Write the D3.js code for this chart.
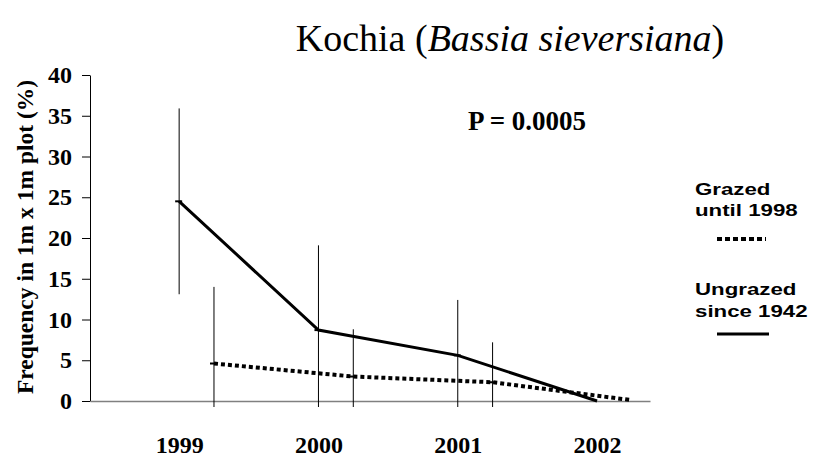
<!DOCTYPE html>
<html>
<head>
<meta charset="utf-8">
<script src="https://cdn.jsdelivr.net/npm/d3@7"></script>
<style>
  body { margin: 0; background: #fff; }
  svg { display: block; }
</style>
</head>
<body>
<div class="chart"></div>
<script>
// chart data
var years = [1999, 2000, 2001, 2002];
var ungrazedMean = [24.5, 8.7, 5.6, 0.0];
var ungrazedErr = [11.4, 10.4, 6.8, 0];
var grazedMean = [4.6, 3.0, 2.3, 0.1];
var grazedErr = [9.4, 5.8, 4.9, 0];
var yTicks = [0, 5, 10, 15, 20, 25, 30, 35, 40];
var grazedShift = 0.25; // grazed series sits a quarter year right of the label

var svgWidth = 816;
var svgHeight = 458;

var serif = "'Liberation Serif', 'Times New Roman', serif";
var sans = "'Liberation Sans', Arial, sans-serif";

var svg = d3.select(".chart")
  .append("svg")
  .attr("width", svgWidth)
  .attr("height", svgHeight);

// scales
var xScale = d3.scaleLinear()
  .domain([1998.36, 2002.38])
  .range([90, 650]);

var yScale = d3.scaleLinear()
  .domain([0, 40])
  .range([401, 75]);

// clip: error bars run a little below the x axis and are cut there
svg.append("clipPath")
  .attr("id", "plotClip")
  .append("rect")
  .attr("x", xScale.range()[0])
  .attr("y", 0)
  .attr("width", xScale.range()[1] - xScale.range()[0])
  .attr("height", yScale(-0.75));

// title
var title = svg.append("text")
  .attr("x", 510)
  .attr("y", 51)
  .attr("text-anchor", "middle")
  .style("font-family", serif)
  .style("font-size", "38px");
title.append("tspan").text("Kochia (");
title.append("tspan").style("font-style", "italic").text("Bassia sieversiana");
title.append("tspan").text(")");

// y axis
var leftAxis = d3.axisLeft(yScale)
  .tickValues(yTicks)
  .tickSize(8)
  .tickSizeOuter(0)
  .tickPadding(10);

var yAxis = svg.append("g")
  .attr("transform", "translate(90,0)")
  .call(leftAxis);
yAxis.select(".domain").attr("stroke", "#000");
yAxis.selectAll("line").attr("stroke", "#000");
yAxis.selectAll("text")
  .style("font-family", serif)
  .style("font-size", "24px")
  .style("font-weight", "bold")
  .attr("fill", "#000");

// x axis (grey line, labels only)
var bottomAxis = d3.axisBottom(xScale)
  .tickValues(years)
  .tickFormat(d3.format("d"))
  .tickSize(0)
  .tickSizeOuter(0);

var xAxis = svg.append("g")
  .attr("transform", "translate(0,401)")
  .call(bottomAxis);
xAxis.select(".domain").attr("stroke", "#808080").attr("stroke-width", 1.5);
xAxis.selectAll("text")
  .attr("y", 52)
  .attr("dy", 0)
  .style("font-family", serif)
  .style("font-size", "24px")
  .style("font-weight", "bold")
  .attr("fill", "#000");

// y axis title
svg.append("text")
  .attr("transform", "translate(33,237) rotate(-90)")
  .attr("text-anchor", "middle")
  .style("font-family", serif)
  .style("font-size", "23.5px")
  .style("font-weight", "bold")
  .text("Frequency in 1m x 1m plot (%)");

// P value
svg.append("text")
  .attr("x", 527)
  .attr("y", 130)
  .attr("text-anchor", "middle")
  .style("font-family", serif)
  .style("font-size", "27px")
  .style("font-weight", "bold")
  .text("P = 0.0005");

// build series
var ungrazed = years.map((y, i) => ({ x: y, mean: ungrazedMean[i], err: ungrazedErr[i] }));
var grazed = years.map((y, i) => ({ x: y + grazedShift, mean: grazedMean[i], err: grazedErr[i] }));

var plot = svg.append("g").attr("clip-path", "url(#plotClip)");

function drawErrorBars(data) {
  plot.selectAll(null)
    .data(data.filter(d => d.err > 0))
    .enter()
    .append("line")
    .attr("x1", d => xScale(d.x))
    .attr("x2", d => xScale(d.x))
    .attr("y1", d => yScale(d.mean + d.err))
    .attr("y2", d => yScale(d.mean - d.err))
    .attr("stroke", "#000")
    .attr("stroke-width", 1);
}
drawErrorBars(ungrazed);
drawErrorBars(grazed);

var line = d3.line()
  .x(d => xScale(d.x))
  .y(d => yScale(d.mean));

svg.append("path")
  .datum(grazed)
  .attr("d", line)
  .attr("fill", "none")
  .attr("stroke", "#000")
  .attr("stroke-width", 4)
  .attr("stroke-dasharray", "4 3");

svg.append("path")
  .datum(ungrazed)
  .attr("d", line)
  .attr("fill", "none")
  .attr("stroke", "#000")
  .attr("stroke-width", 3);

// little dash markers at the points
function drawMarkers(data) {
  svg.selectAll(null)
    .data(data.slice(0, 3))
    .enter()
    .append("line")
    .attr("x1", d => xScale(d.x) - 4)
    .attr("x2", d => xScale(d.x) + 3)
    .attr("y1", d => yScale(d.mean))
    .attr("y2", d => yScale(d.mean))
    .attr("stroke", "#000")
    .attr("stroke-width", 2);
}
drawMarkers(ungrazed);
drawMarkers(grazed);

// legend
var legend = svg.append("g");

function legendText(txt, x, y) {
  legend.append("text")
    .attr("transform", `translate(${x},${y}) scale(1.31,1)`)
    .style("font-family", sans)
    .style("font-size", "17px")
    .style("font-weight", "bold")
    .text(txt);
}
legendText("Grazed", 695, 195);
legendText("until 1998", 695, 216);
legendText("Ungrazed", 695, 295);
legendText("since 1942", 695, 317);

legend.append("line")
  .attr("x1", 717).attr("x2", 766)
  .attr("y1", 239).attr("y2", 239)
  .attr("stroke", "#000")
  .attr("stroke-width", 4)
  .attr("stroke-dasharray", "5 3");

legend.append("line")
  .attr("x1", 717).attr("x2", 769)
  .attr("y1", 334).attr("y2", 334)
  .attr("stroke", "#000")
  .attr("stroke-width", 3);
</script>
</body>
</html>
